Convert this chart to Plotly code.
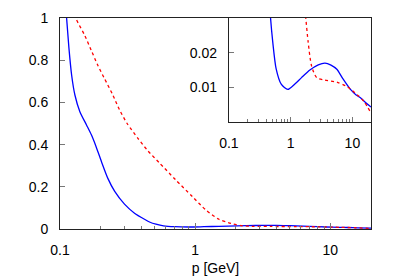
import plotly.graph_objects as go

# ---- data ----
blue_p = [0.1, 0.1119, 0.1165, 0.1219, 0.1289, 0.1403, 0.1571, 0.171, 0.185, 0.203, 0.226, 0.254,
          0.30, 0.356, 0.422, 0.464, 0.513, 0.583, 0.704, 0.9, 1.16, 1.5, 2.05,
          2.8, 3.6, 4.5, 5.6, 7.0, 9.3, 11.5, 13.5, 16.0, 20.0]
blue_v = [1.38, 1.0, 0.856, 0.73, 0.635, 0.556, 0.493, 0.445, 0.39, 0.318, 0.24, 0.178,
          0.118, 0.075, 0.046, 0.032, 0.0231, 0.0153, 0.0109, 0.0094, 0.0109, 0.0128, 0.0150,
          0.0165, 0.0170, 0.0164, 0.0152, 0.0125, 0.0094, 0.0078, 0.0070, 0.0058, 0.0043]

red_p = [0.12, 0.1318, 0.152, 0.17, 0.19, 0.213, 0.246, 0.276, 0.314, 0.377, 0.446, 0.543,
         0.72, 0.956, 1.2, 1.5, 1.76, 1.92, 2.18, 2.64, 3.6, 5.6, 8.2, 11.9, 15.3, 20.0]
red_v = [1.07, 0.995, 0.919, 0.848, 0.777, 0.714, 0.635, 0.564, 0.50, 0.43, 0.371, 0.314,
         0.232, 0.153, 0.09, 0.046, 0.030, 0.0231, 0.0162, 0.0128, 0.0121, 0.0115, 0.0102, 0.0079, 0.006, 0.0026]

x_ticks = [0.1, 1, 10]
x_ticklabels = ["0.1", "1", "10"]
x_minor = [0.2, 0.3, 0.4, 0.5, 0.6, 0.7, 0.8, 0.9, 2, 3, 4, 5, 6, 7, 8, 9]
y_ticks = [0, 0.2, 0.4, 0.6, 0.8, 1.0]
y_ticklabels = ["0", "0.2", "0.4", "0.6", "0.8", "1"]
inset_y_ticks = [0.01, 0.02]
inset_y_ticklabels = ["0.01", "0.02"]
x_title = "p [GeV]"

BLUE = "#0000ff"
RED = "#ff0000"
FONT = dict(family="Liberation Sans, Arial, sans-serif", size=14, color="#000")

fig = go.Figure()
for xa, ya in (("x", "y"), ("x2", "y2")):
    fig.add_trace(go.Scatter(x=blue_p, y=blue_v, mode="lines", xaxis=xa, yaxis=ya,
                             line=dict(color=BLUE, width=1.3, shape="spline", smoothing=0.7),
                             showlegend=False, hoverinfo="skip"))
    fig.add_trace(go.Scatter(x=red_p, y=red_v, mode="lines", xaxis=xa, yaxis=ya,
                             line=dict(color=RED, width=1.3, dash="3px,3px", shape="spline", smoothing=0.7),
                             showlegend=False, hoverinfo="skip"))

axis_common = dict(showgrid=False, zeroline=False, showline=True, linecolor="#222",
                   linewidth=1, mirror=True, ticks="inside", tickcolor="#777",
                   tickfont=FONT, ticklabelstandoff=8, automargin=False)

xr = [-1, 1.30103]
# the page body has an 8px default margin: figure is sized/offset to compensate
fig.update_layout(
    width=391, height=271,
    margin=dict(l=52, r=28, t=10, b=50),
    paper_bgcolor="white", plot_bgcolor="white",
    font=FONT,
    xaxis=dict(type="log", range=xr, domain=[0, 1], tickvals=x_ticks, ticktext=x_ticklabels,
               ticklen=6, minor=dict(tickvals=x_minor, ticks="inside", ticklen=3, tickcolor="#777"),
               title=dict(text=x_title, font=FONT, standoff=6), **axis_common),
    yaxis=dict(range=[0, 1], domain=[0, 1], tickvals=y_ticks, ticktext=y_ticklabels,
               ticklen=5, **axis_common),
    xaxis2=dict(type="log", range=xr, domain=[0.543, 1], anchor="y2", tickvals=x_ticks,
                ticktext=x_ticklabels, ticklen=5,
                minor=dict(tickvals=x_minor, ticks="inside", ticklen=3, tickcolor="#777"),
                **axis_common),
    yaxis2=dict(range=[0, 0.03], domain=[0.507, 1], anchor="x2", tickvals=inset_y_ticks,
                ticktext=inset_y_ticklabels, ticklen=5, **axis_common),
)

fig.write_html("out.html")
